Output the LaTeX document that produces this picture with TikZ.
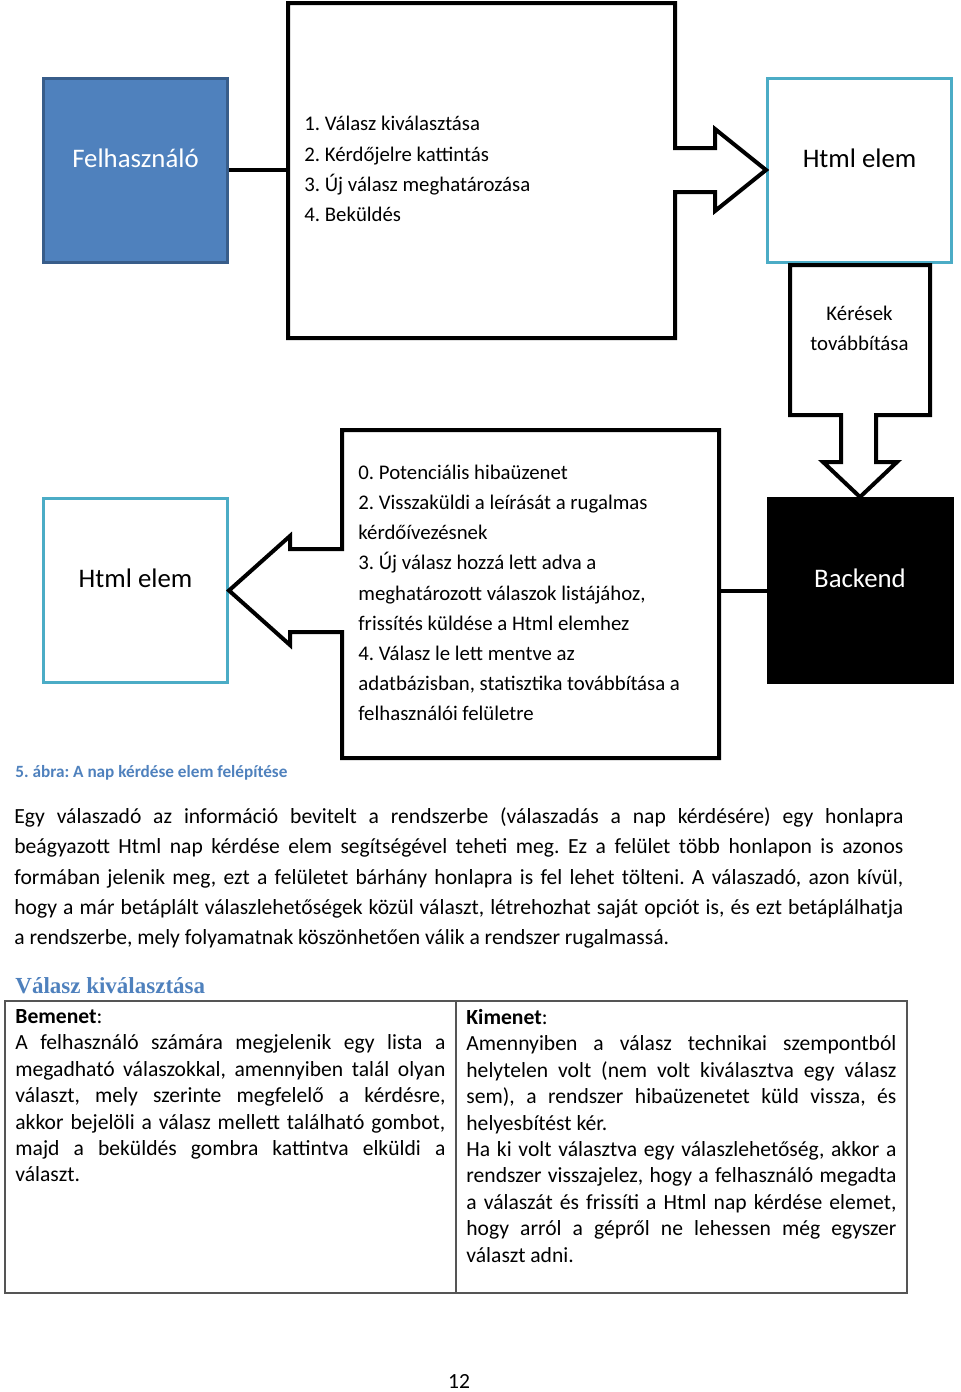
\documentclass[tikz,border=0pt]{standalone}
\usepackage{fontspec}
\setmainfont{Carlito}
\newfontfamily\headfont{Liberation Serif}
\usepackage{xcolor}
\definecolor{userfill}{HTML}{4F81BD}
\definecolor{userline}{HTML}{385D8A}
\definecolor{htmlline}{HTML}{4BACC6}
\definecolor{docblue}{HTML}{4F81BD}
\definecolor{gridgray}{HTML}{555555}
\setlength{\parindent}{0pt}
\frenchspacing

\tikzset{
  box/.style={minimum width=92pt, minimum height=92pt, line width=1.5pt,
    text height=9pt, text depth=12pt, font=\fontsize{13.4}{16}\selectfont},
  userbox/.style={box, draw=userline, fill=userfill, text=white},
  htmlbox/.style={box, draw=htmlline, fill=white},
  backbox/.style={box, draw=black, fill=black, text=white},
  callout/.style={draw, line width=2pt, line join=miter},
  link/.style={draw, line width=2pt},
  steps/.style={align=left, font=\fontsize{10.4}{15.1}\selectfont},
  caption/.style={text=docblue, font=\fontsize{8.6}{10}\selectfont\bfseries},
  body/.style={text width=444.5pt, align=justify,
    font=\fontsize{10.8}{15.2}\selectfont},
  heading/.style={text=docblue, font=\fontsize{11.5}{14}\selectfont\headfont\bfseries},
  cell/.style={text width=215pt, align=justify,
    font=\fontsize{10.8}{13.2}\selectfont},
  grid/.style={draw=gridgray, line width=0.7pt}
}

\begin{document}
\begin{tikzpicture}[x=0.5pt, y=-0.5pt]
  \tikzstyle{every node}=[inner sep=0pt]
  \useasboundingbox (0,0) rectangle (960,1392);

  % upper row
  \node[userbox] (user) at (135.5,170) {Felhasználó};
  \node[htmlbox] (htmltop) at (859.5,170) {Html elem};
  \coordinate (stepsin) at (288,170);
  \draw[link] (user.east) -- (stepsin);
  \draw[callout] (288,3) -- (675,3) -- (675,148) -- (715,148) -- (715,129)
    -- (htmltop.west) -- (715,211) -- (715,192) -- (675,192) -- (675,338)
    -- (288,338) -- cycle;
  \node[steps, anchor=west] (steps1) at (304,169) {1. Válasz kiválasztása\\
    2. Kérdőjelre kattintás\\3. Új válasz meghatározása\\4. Beküldés};

  % forward to the backend
  \node[backbox] (backend) at (860,590.5) {Backend};
  \draw[callout] (790,265) -- (930,265) -- (930,415) -- (876,415) -- (876,462)
    -- (897,462) -- (backend.north) -- (823,462) -- (841,462) -- (841,415)
    -- (790,415) -- cycle;
  \node[steps, align=center] (forward) at (859.5,328) {Kérések\\továbbítása};

  % lower row
  \node[htmlbox] (htmlbot) at (135.5,590.5) {Html elem};
  \coordinate (stepsout) at (719,590.5);
  \draw[link] (stepsout) -- (backend.west);
  \draw[callout] (342,430) -- (719,430) -- (719,758) -- (342,758) -- (342,632)
    -- (290,632) -- (290,645) -- (htmlbot.east) -- (290,536) -- (290,549)
    -- (342,549) -- cycle;
  \node[steps, anchor=west] (steps2) at (358,593) {0. Potenciális hibaüzenet\\
    2. Visszaküldi a leírását a rugalmas\\kérdőívezésnek\\
    3. Új válasz hozzá lett adva a\\meghatározott válaszok listájához,\\
    frissítés küldése a Html elemhez\\4. Válasz le lett mentve az\\
    adatbázisban, statisztika továbbítása a\\felhasználói felületre};

  \node[caption, anchor=west] (cap) at (15,773) {5. ábra: A nap kérdése elem felépítése};

  \node[body, anchor=north west] (para) at (14,807) {Egy válaszadó az információ
    bevitelt a rendszerbe (válaszadás a nap kérdésére) egy honlapra\linebreak
    beágyazott Html nap kérdése elem segítségével teheti meg. Ez a felület több
    honlapon is azonos\linebreak formában jelenik meg, ezt a felületet bárhány
    honlapra is fel lehet tölteni. A válaszadó, azon kívül,\linebreak hogy a már
    betáplált válaszlehetőségek közül választ, létrehozhat saját opciót is, és ezt
    betáplálhatja\linebreak a rendszerbe, mely folyamatnak köszönhetően válik a
    rendszer rugalmassá.};

  % table
  \node[heading, anchor=west] (sect) at (15,986) {Válasz kiválasztása};
  \draw[grid] (5,1001) rectangle (907,1293);
  \draw[grid] (456,1001) -- (456,1293);
  \node[cell, anchor=north west] (input) at (15,1009) {\textbf{Bemenet}:\par
    A felhasználó számára megjelenik egy lista a\linebreak megadható
    válaszokkal, amennyiben talál olyan\linebreak választ, mely szerinte
    megfelelő a kérdésre,\linebreak akkor bejelöli a válasz mellett található
    gombot,\linebreak majd a beküldés gombra kattintva elküldi a\linebreak
    választ.};
  \node[cell, anchor=north west] (output) at (466,1009) {\textbf{Kimenet}:\par
    Amennyiben a válasz technikai szempontból\linebreak helytelen volt (nem
    volt kiválasztva egy válasz\linebreak sem), a rendszer hibaüzenetet küld
    vissza, és\linebreak helyesbítést kér.\par
    Ha ki volt választva egy válaszlehetőség, akkor a\linebreak rendszer
    visszajelez, hogy a felhasználó megadta\linebreak a válaszát és frissíti a
    Html nap kérdése elemet,\linebreak hogy arról a gépről ne lehessen még
    egyszer\linebreak választ adni.};

  \node[font=\fontsize{10.8}{13}\selectfont] (page) at (459,1381) {12};
\end{tikzpicture}
\end{document}
